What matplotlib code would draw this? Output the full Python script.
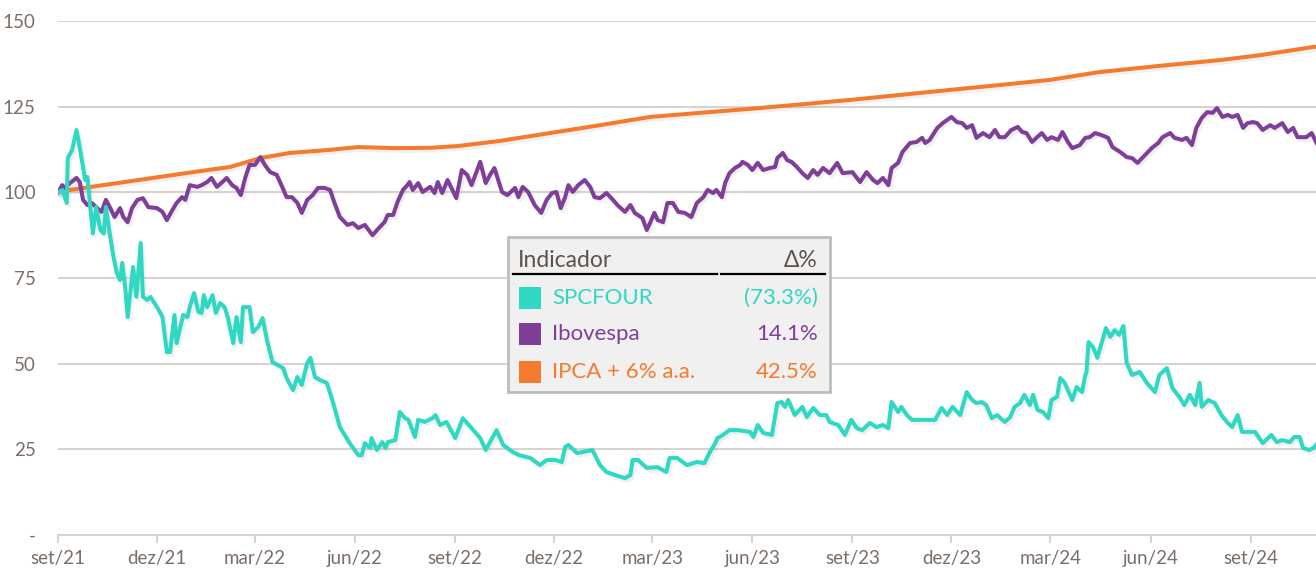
import pandas as pd
import matplotlib
matplotlib.use('Agg')
import matplotlib.pyplot as plt
import matplotlib.patheffects as pe
from matplotlib.patches import Rectangle

plt.rcParams['font.family'] = ['Lato', 'DejaVu Sans']

#Dados (base 100 em 01/09/2021, dias corridos desde o inicio)
inicio = pd.Timestamp('2021-09-01')
fim = pd.Timestamp('2024-10-31')

dias_spcfour = [0, 4, 8, 9, 13, 17, 20, 25, 27, 29, 32, 35, 39, 42, 44, 48, 51, 54, 57, 59,
                62, 64, 69, 72, 76, 78, 82, 85, 91, 96, 100, 103, 107, 109, 115, 119, 121, 125, 129, 132,
                134, 137, 142, 145, 149, 153, 156, 161, 164, 168, 170, 176, 179, 184, 188, 192, 197, 202, 207, 210,
                216, 220, 224, 229, 232, 236, 241, 247, 252, 259, 268, 276, 279, 282, 287, 288, 293, 298, 301, 303,
                310, 314, 319, 322, 328, 331, 337, 344, 347, 351, 357, 365, 372, 380, 388, 393, 403, 409, 418, 424,
                434, 443, 449, 457, 463, 466, 469, 477, 482, 491, 498, 504, 512, 521, 526, 528, 533, 541, 551, 559,
                562, 569, 578, 587, 594, 599, 604, 606, 611, 617, 625, 636, 639, 643, 648, 656, 661, 665, 668, 671,
                677, 684, 688, 694, 700, 706, 709, 717, 723, 729, 734, 739, 746, 752, 758, 763, 766, 772, 775, 780,
                785, 794, 799, 806, 812, 817, 822, 829, 835, 840, 844, 849, 853, 858, 863, 870, 875, 879, 884, 888,
                893, 896, 900, 905, 910, 913, 918, 921, 925, 932, 936, 941, 944, 945, 947, 951, 955, 959, 963, 967,
                971, 975, 979, 982, 987, 994, 1000, 1008, 1012, 1019, 1024, 1031, 1035, 1040, 1045, 1049, 1051, 1057, 1063, 1069,
                1075, 1079, 1084, 1088, 1093, 1100, 1107, 1115, 1120, 1125, 1132, 1136, 1141, 1144, 1150, 1155, 1157]
spcfour = [100.0, 100.7, 96.9, 110.0, 112.4, 118.2, 113.0, 103.6, 104.5, 97.8, 88.0, 95.7, 89.0, 88.0, 95.7, 87.0, 81.1, 76.5, 74.4, 79.4,
           71.5, 63.6, 78.2, 69.5, 85.2, 69.5, 68.6, 69.5, 66.5, 63.6, 53.4, 53.4, 64.2, 56.0, 64.2, 63.6, 66.5, 70.6, 65.1, 64.8,
           70.0, 66.5, 70.0, 64.8, 67.7, 66.5, 63.6, 56.0, 63.6, 56.3, 66.5, 66.5, 59.2, 60.7, 63.3, 56.9, 50.5, 49.6, 48.7, 45.8,
           42.3, 46.1, 43.8, 50.2, 51.7, 46.1, 45.2, 44.4, 39.4, 31.5, 26.8, 23.3, 23.3, 26.8, 25.4, 28.3, 24.8, 27.1, 25.4, 27.1,
           27.7, 35.9, 34.1, 33.6, 28.6, 33.6, 33.0, 34.1, 35.0, 32.1, 33.0, 28.3, 34.1, 31.2, 28.3, 24.8, 30.6, 26.3, 24.2, 23.3,
           22.5, 20.4, 21.9, 21.9, 21.3, 25.7, 26.3, 23.9, 24.2, 24.8, 20.4, 18.4, 17.5, 16.6, 17.5, 21.9, 21.9, 19.6, 19.8, 18.4,
           22.5, 22.5, 20.4, 21.3, 21.0, 24.2, 26.8, 28.3, 29.2, 30.6, 30.6, 30.1, 28.6, 32.1, 29.8, 29.2, 38.5, 38.8, 37.4, 39.4,
           35.0, 37.4, 34.4, 37.1, 35.0, 35.0, 33.0, 32.1, 29.2, 33.6, 31.2, 30.6, 32.7, 31.5, 32.1, 31.2, 38.8, 35.9, 37.4, 35.0,
           33.6, 33.6, 33.6, 33.6, 37.1, 35.0, 37.4, 35.0, 41.7, 39.4, 38.5, 38.8, 37.9, 34.1, 35.0, 33.0, 34.4, 37.4, 38.5, 40.9,
           37.9, 40.9, 36.5, 35.9, 34.1, 39.4, 40.3, 45.8, 44.4, 39.4, 43.2, 41.7, 46.7, 47.3, 56.3, 54.9, 51.7, 56.0, 60.4, 57.8,
           59.8, 58.4, 61.0, 50.2, 46.7, 47.6, 44.6, 41.7, 46.7, 48.7, 42.9, 40.0, 37.9, 40.9, 37.9, 44.4, 37.4, 39.4, 38.5, 35.0,
           32.7, 31.5, 35.0, 30.1, 30.1, 30.1, 26.8, 29.2, 27.1, 27.7, 27.1, 28.6, 28.6, 25.4, 24.8, 25.7, 26.7]

dias_ibov = [0, 4, 6, 11, 17, 20, 23, 27, 31, 36, 40, 44, 48, 52, 57, 60, 64, 68, 73, 78,
             83, 91, 96, 100, 105, 109, 114, 117, 121, 128, 132, 137, 141, 146, 151, 155, 160, 164, 168, 172,
             176, 181, 186, 190, 195, 201, 206, 210, 215, 220, 224, 229, 234, 239, 245, 250, 254, 259, 266, 271,
             276, 282, 289, 294, 300, 303, 308, 312, 317, 321, 323, 326, 331, 335, 342, 346, 349, 353, 358, 366,
             371, 376, 380, 388, 393, 397, 401, 408, 413, 420, 423, 427, 432, 438, 444, 449, 454, 458, 462, 466,
             469, 473, 478, 484, 489, 493, 498, 504, 510, 514, 521, 526, 530, 537, 541, 544, 548, 551, 556, 560,
             565, 570, 576, 582, 587, 593, 597, 602, 605, 610, 613, 617, 622, 627, 629, 634, 638, 643, 648, 654,
             659, 661, 666, 670, 674, 679, 684, 689, 694, 698, 703, 709, 716, 721, 730, 737, 743, 749, 753, 758,
             763, 766, 772, 776, 783, 789, 794, 797, 801, 808, 813, 821, 826, 831, 835, 840, 844, 850, 856, 861,
             865, 870, 876, 882, 886, 890, 895, 899, 904, 909, 913, 919, 923, 928, 932, 939, 944, 948, 953, 959,
             965, 969, 976, 982, 987, 992, 999, 1005, 1011, 1015, 1022, 1026, 1033, 1037, 1042, 1046, 1051, 1056, 1061, 1065,
             1070, 1075, 1079, 1084, 1089, 1093, 1098, 1102, 1107, 1114, 1118, 1125, 1130, 1135, 1139, 1147, 1152, 1157]
ibovespa = [100.0, 102.1, 101.3, 102.7, 104.2, 103.0, 97.8, 96.3, 96.9, 95.4, 94.3, 97.8, 95.4, 92.8, 95.4, 92.8, 91.3, 95.4, 97.8, 98.3,
            95.7, 95.4, 94.3, 91.9, 94.8, 96.9, 98.6, 97.8, 102.1, 101.6, 102.1, 103.0, 104.2, 101.6, 103.0, 104.2, 102.1, 101.3, 99.2, 104.2,
            108.0, 108.0, 110.3, 108.0, 105.9, 105.1, 101.6, 98.6, 98.6, 96.9, 94.0, 97.8, 99.2, 101.3, 101.3, 100.7, 96.9, 92.8, 90.5, 91.0,
            89.6, 90.5, 87.5, 89.3, 91.3, 93.4, 93.4, 97.2, 100.7, 102.1, 103.0, 100.7, 102.7, 100.1, 101.6, 99.8, 103.0, 99.8, 103.6, 98.3,
            106.5, 105.1, 102.1, 108.9, 102.7, 105.1, 107.1, 100.1, 99.2, 101.3, 98.6, 101.6, 100.1, 96.3, 94.0, 97.8, 99.8, 100.1, 95.4, 98.6,
            102.1, 100.1, 102.1, 103.6, 101.6, 98.6, 98.3, 99.8, 97.8, 96.3, 94.3, 96.3, 94.0, 92.5, 89.0, 91.0, 94.0, 91.9, 91.3, 96.9,
            96.9, 94.3, 94.0, 92.8, 96.9, 98.6, 100.7, 99.8, 100.7, 98.6, 102.7, 105.6, 107.1, 108.0, 108.9, 108.0, 106.5, 108.6, 106.5, 107.1,
            107.4, 110.0, 111.5, 109.4, 108.9, 107.4, 105.6, 104.2, 106.5, 105.1, 107.1, 105.6, 108.6, 105.6, 105.9, 103.0, 105.9, 103.6, 102.7, 104.2,
            102.1, 107.1, 108.6, 111.8, 114.4, 114.7, 115.9, 114.4, 115.3, 118.8, 120.2, 122.0, 120.5, 120.2, 118.8, 119.6, 115.9, 117.3, 116.1, 118.2,
            116.1, 116.1, 118.2, 119.1, 117.6, 117.3, 114.7, 115.9, 117.3, 115.3, 116.1, 115.3, 117.6, 114.7, 112.9, 113.8, 115.9, 116.1, 117.3, 116.7,
            115.9, 113.2, 111.8, 110.3, 110.0, 108.6, 110.9, 112.9, 114.4, 116.1, 117.3, 115.9, 115.3, 115.9, 113.8, 118.8, 121.7, 123.4, 123.2, 124.6,
            122.0, 122.6, 122.0, 122.6, 118.8, 120.2, 120.5, 120.2, 118.2, 119.6, 118.8, 120.2, 117.6, 118.8, 116.1, 116.1, 117.3, 114.1]

dias_ipca = [0, 11, 124, 158, 186, 213, 250, 275, 311, 342, 367, 406, 440, 498, 544, 590,
             645, 729, 820, 865, 911, 957, 1012, 1068, 1104, 1153, 1157]
ipca6 = [100.0, 100.7, 105.9, 107.4, 110.0, 111.5, 112.4, 113.2, 112.9, 113.0, 113.5, 115.0, 116.7, 119.6, 122.0, 123.2,
         124.6, 127.0, 129.9, 131.3, 132.8, 135.1, 136.9, 138.6, 140.0, 142.4, 142.5]

#Tabela do quadro
indicadores = ['SPCFOUR', 'Ibovespa', 'IPCA + 6% a.a.']
variacoes = ['(73.3%)', '14.1%', '42.5%']
cores = ['#2ed8c3', '#7f3f98', '#f47a2e']

#Eixos
ticks_x = pd.date_range('2021-09-01', '2024-09-01', freq='3MS')
rotulos_x = ['set/21', 'dez/21', 'mar/22', 'jun/22', 'set/22', 'dez/22', 'mar/23',
             'jun/23', 'set/23', 'dez/23', 'mar/24', 'jun/24', 'set/24']
ticks_y = [0, 25, 50, 75, 100, 125, 150]
rotulos_y = ['-', '25', '50', '75', '100', '125', '150']

def datas(dias):
    return inicio + pd.to_timedelta(dias, unit='D')

W, H = 1316, 575
fig = plt.figure(figsize=(W / 100, H / 100), dpi=100)
ax = fig.add_axes([58 / W, 1 - 535 / H, 1 - 58 / W, (535 - 21) / H])

sombra = [pe.SimpleLineShadow(offset=(1.5, -2), shadow_color='#888888', alpha=0.12), pe.Normal()]
ax.plot(datas(dias_ipca), ipca6, color=cores[2], lw=2.9, solid_capstyle='round', path_effects=sombra, zorder=3)
ax.plot(datas(dias_ibov), ibovespa, color=cores[1], lw=2.9, solid_joinstyle='round', path_effects=sombra, zorder=3)
ax.plot(datas(dias_spcfour), spcfour, color=cores[0], lw=2.9, solid_joinstyle='round', path_effects=sombra, zorder=4)

ax.set_xlim(inicio, fim)
ax.set_ylim(0, 150)
ax.set_xticks(ticks_x)
ax.set_xticklabels(rotulos_x)
ax.set_yticks(ticks_y)
ax.set_yticklabels(rotulos_y)
ax.grid(axis='y', color='#d8d3ce', lw=1.5)
ax.set_axisbelow(True)
for s in ['top', 'right', 'left']:
    ax.spines[s].set_visible(False)
ax.spines['bottom'].set_color('#d8d3ce')
ax.spines['bottom'].set_linewidth(1.5)
ax.tick_params(axis='x', colors='#d8d3ce', length=6, width=1.5, labelcolor='#7a6e66', labelsize=13.5, pad=5)
ax.tick_params(axis='y', length=0, labelcolor='#7a6e66', labelsize=13.5, pad=16)

#Quadro de legenda
def fx(x):
    return x / W

def fy(y):
    return 1 - y / H

tf = fig.transFigure
ax.add_patch(Rectangle((fx(508), fy(392)), fx(830) - fx(508), fy(237) - fy(392), transform=tf,
                       facecolor='#f0f0f0', edgecolor='#bdbdbd', lw=2, zorder=10, clip_on=False))
fig.text(fx(518), fy(260), 'Indicador', color='#5e534c', fontsize=16.5, va='center', ha='left', zorder=11)
fig.text(fx(818), fy(260), 'Δ%', color='#5e534c', fontsize=16.5, va='center', ha='right', zorder=11)
ax.plot([fx(513), fx(717)], [fy(274), fy(274)], transform=tf, color='black', lw=1.6, zorder=11, clip_on=False)
ax.plot([fx(721), fx(825)], [fy(274), fy(274)], transform=tf, color='black', lw=1.6, zorder=11, clip_on=False)

linhas_y = [298, 334, 372]
for nome, var, cor, yy in zip(indicadores, variacoes, cores, linhas_y):
    ax.add_patch(Rectangle((fx(519), fy(yy + 11)), fx(541) - fx(519), fy(yy - 11) - fy(yy + 11), transform=tf,
                           facecolor=cor, edgecolor='none', zorder=11, clip_on=False))
    fig.text(fx(552), fy(yy), nome, color=cor, fontsize=16, va='center', ha='left', zorder=11)
    fig.text(fx(818), fy(yy), var, color=cor, fontsize=16, va='center', ha='right', zorder=11)

fig.savefig('out.png', dpi=100)
